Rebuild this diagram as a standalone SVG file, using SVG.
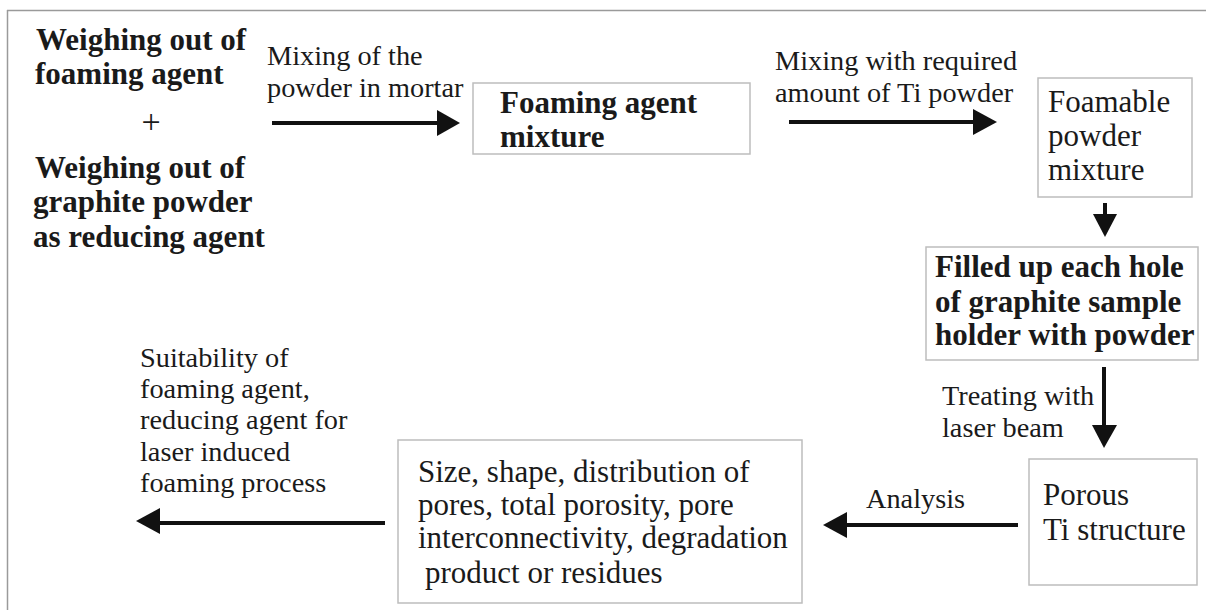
<svg xmlns="http://www.w3.org/2000/svg" width="1206" height="610" viewBox="0 0 1206 610">
<style>
text{fill:#1a1a1a;font-family:"Liberation Serif","Times New Roman",serif}
.b{font-weight:bold;font-size:31px}
.r{font-size:28.3px}
.rb{font-size:31px}
.box{fill:#fff;stroke:#bdbdbd;stroke-width:1.5}
.arr{stroke:#111;stroke-width:4;fill:none}
.head{fill:#111}
</style>
<rect width="1206" height="610" fill="#fff"/>
<g id="frame">
<line x1="7" y1="10.5" x2="1206" y2="10.5" stroke="#9a9a9a" stroke-width="1.5"/>
<line x1="7.5" y1="10" x2="7.5" y2="610" stroke="#9a9a9a" stroke-width="1.5"/>
</g>
<g id="start">
<text class="b" x="36" y="50">Weighing out of</text>
<text class="b" x="35" y="84">foaming agent</text>
<text x="151" y="133" font-size="34" text-anchor="middle">+</text>
<text class="b" x="35" y="178">Weighing out of</text>
<text class="b" x="33" y="212">graphite powder</text>
<text class="b" x="33" y="247">as reducing agent</text>
</g>
<g id="n1">
<rect class="box" x="473" y="83" width="277" height="71"/>
<text class="b" x="500" y="113">Foaming agent</text>
<text class="b" x="500" y="147">mixture</text>
</g>
<g id="n2">
<rect class="box" x="1038" y="78" width="154" height="119"/>
<text class="rb" x="1048" y="112">Foamable</text>
<text class="rb" x="1048" y="146">powder</text>
<text class="rb" x="1048" y="180">mixture</text>
</g>
<g id="n3">
<rect class="box" x="926" y="247" width="272" height="113"/>
<text class="b" x="935" y="277">Filled up each hole</text>
<text class="b" x="935" y="312">of graphite sample</text>
<text class="b" x="935" y="345">holder with powder</text>
</g>
<g id="n4">
<rect class="box" x="1029" y="459" width="168" height="126"/>
<text class="rb" x="1043" y="505">Porous</text>
<text class="rb" x="1043" y="540">Ti structure</text>
</g>
<g id="n5">
<rect class="box" x="398" y="440" width="404" height="163"/>
<text class="rb" x="418" y="482">Size, shape, distribution of</text>
<text class="rb" x="418" y="515">pores, total porosity, pore</text>
<text class="rb" x="418" y="548">interconnectivity, degradation</text>
<text class="rb" x="425" y="583">product or residues</text>
</g>
<g id="end">
<text class="r" x="140" y="367">Suitability of</text>
<text class="r" x="140" y="398">foaming agent,</text>
<text class="r" x="140" y="429">reducing agent for</text>
<text class="r" x="140" y="461">laser induced</text>
<text class="r" x="140" y="492">foaming process</text>
</g>
<g id="connectors">
<line class="arr" x1="272" y1="123" x2="440" y2="123"/>
<polygon class="head" points="460,123 437,110 437,136"/>
<text class="r" x="267" y="65">Mixing of the</text>
<text class="r" x="267" y="97">powder in mortar</text>

<line class="arr" x1="789" y1="122" x2="976" y2="122"/>
<polygon class="head" points="997,122 973,109 973,135"/>
<text class="r" x="775" y="70">Mixing with required</text>
<text class="r" x="775" y="102">amount of Ti powder</text>

<line class="arr" x1="1105" y1="203" x2="1105" y2="218"/>
<polygon class="head" points="1105,237 1093,214 1117,214"/>

<line class="arr" x1="1104" y1="367" x2="1104" y2="428"/>
<polygon class="head" points="1104,448 1092,425 1117,425"/>
<text class="r" x="942" y="405">Treating with</text>
<text class="r" x="942" y="437">laser beam</text>

<line class="arr" x1="1018" y1="525" x2="843" y2="525"/>
<polygon class="head" points="823,525 847,512 847,538"/>
<text class="r" x="866" y="508">Analysis</text>

<line class="arr" x1="385" y1="523" x2="156" y2="523"/>
<polygon class="head" points="136,521 160,508 160,534"/>
</g>
</svg>
